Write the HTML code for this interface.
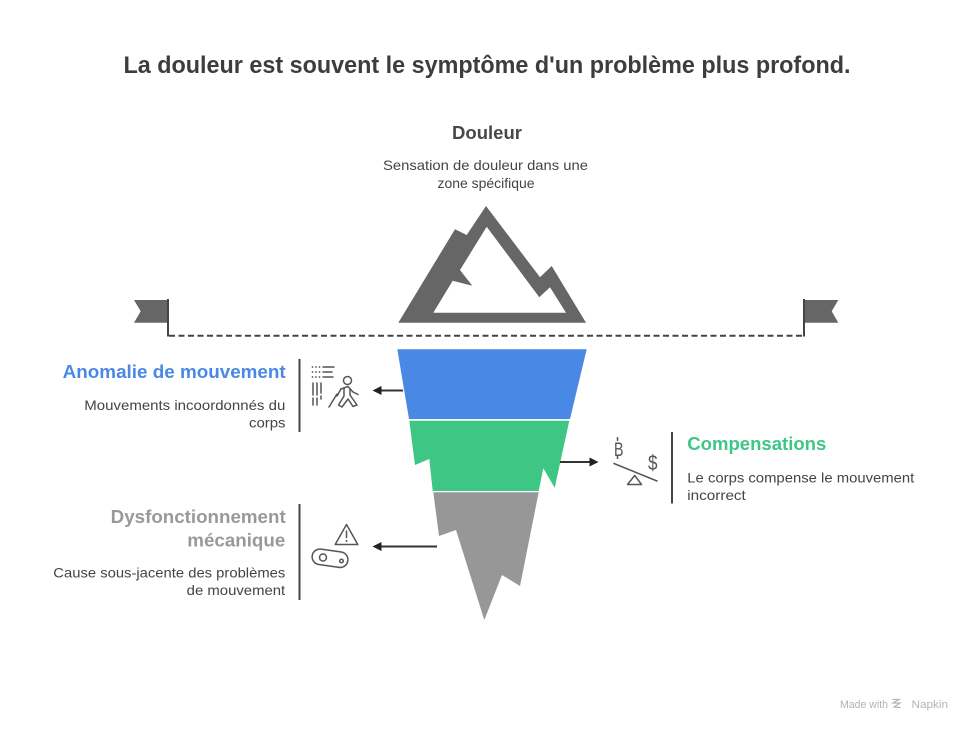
<!DOCTYPE html>
<html>
<head>
<meta charset="utf-8">
<style>
  html,body{margin:0;padding:0;background:#fff;}
  svg{display:block;}
  text{font-family:"Liberation Sans", Arial, sans-serif;}
</style>
</head>
<body>
<svg width="972" height="732" viewBox="0 0 972 732" xmlns="http://www.w3.org/2000/svg">
  <rect width="972" height="732" fill="#fff"/>

  <!-- Title -->
  <text x="123.5" y="73" font-size="24" font-weight="bold" fill="#3d3d3d" textLength="727" lengthAdjust="spacingAndGlyphs">La douleur est souvent le symptôme d'un problème plus profond.</text>

  <!-- Douleur -->
  <text x="452" y="139" font-size="18" font-weight="bold" fill="#484848" textLength="70" lengthAdjust="spacingAndGlyphs">Douleur</text>
  <text x="383" y="170" font-size="14" fill="#444" textLength="205" lengthAdjust="spacingAndGlyphs">Sensation de douleur dans une</text>
  <text x="486" y="188" font-size="14" fill="#444" text-anchor="middle" textLength="97" lengthAdjust="spacingAndGlyphs">zone spécifique</text>

  <!-- Mountain -->
  <path d="M486 206 L540 277.3 L551.7 266 L586 322.7 L398.3 322.7 L455 229.3 L466.7 235 Z" fill="#666"/>
  <path d="M486.7 226.7 L539.3 297.3 L550 287.3 L566 312.7 L433.3 312.7 L452.7 280.7 L472.3 285.7 L460 270 Z" fill="#fff"/>

  <!-- Flags + dashed waterline -->
  <path d="M134 300 L168 300 L168 322.7 L134 322.7 L140.7 311.3 Z" fill="#666"/>
  <line x1="168" y1="299" x2="168" y2="336.5" stroke="#444" stroke-width="2"/>
  <path d="M838.3 300 L804 300 L804 322.7 L838.3 322.7 L831.7 311.3 Z" fill="#666"/>
  <line x1="804" y1="299" x2="804" y2="336.5" stroke="#444" stroke-width="2"/>
  <line x1="169" y1="335.7" x2="803" y2="335.7" stroke="#444" stroke-width="2" stroke-dasharray="6 3.5"/>

  <!-- Iceberg layers -->
  <path d="M397.3 349.3 L586.7 349.3 L570 419 L409 419 Z" fill="#4A88E5"/>
  <path d="M409.3 420.7 L569.3 420.7 L554.7 487.7 L543.3 468.3 L538.7 491 L432.7 491 L429.3 459 L415 465 Z" fill="#3EC685"/>
  <path d="M433.3 492.3 L538.7 492.3 L520 586 L502 575 L484.3 620 L456 530 L439 536 Z" fill="#979797"/>

  <!-- Arrows -->
  <line x1="403" y1="390.5" x2="380" y2="390.5" stroke="#333" stroke-width="2"/>
  <path d="M372.5 390.5 L381.5 386 L381.5 395 Z" fill="#222"/>
  <line x1="437" y1="546.5" x2="380" y2="546.5" stroke="#333" stroke-width="2"/>
  <path d="M372.5 546.5 L381.5 542 L381.5 551 Z" fill="#222"/>
  <line x1="560" y1="462" x2="590" y2="462" stroke="#333" stroke-width="2"/>
  <path d="M598.5 462 L589.5 457.5 L589.5 466.5 Z" fill="#222"/>

  <!-- Left block: Anomalie -->
  <text x="62.7" y="378" font-size="18" font-weight="bold" fill="#4A88E5" textLength="223" lengthAdjust="spacingAndGlyphs">Anomalie de mouvement</text>
  <text x="84.3" y="410" font-size="14" fill="#444" textLength="201" lengthAdjust="spacingAndGlyphs">Mouvements incoordonnés du</text>
  <text x="249" y="427.5" font-size="14" fill="#444" textLength="36.5" lengthAdjust="spacingAndGlyphs">corps</text>
  <line x1="299.5" y1="359" x2="299.5" y2="432" stroke="#444" stroke-width="2"/>

  <!-- Walking icon -->
  <g stroke="#555" stroke-width="1.5" fill="none" stroke-linecap="round" stroke-linejoin="round">
    <g fill="#555" stroke="none">
      <circle cx="312.5" cy="367" r="0.9"/><circle cx="316" cy="367" r="0.9"/><circle cx="319.5" cy="367" r="0.9"/>
      <circle cx="312.5" cy="372" r="0.9"/><circle cx="316" cy="372" r="0.9"/><circle cx="319.5" cy="372" r="0.9"/>
      <circle cx="312.5" cy="377" r="0.9"/><circle cx="316" cy="377" r="0.9"/><circle cx="319.5" cy="377" r="0.9"/>
    </g>
    <line x1="323" y1="367" x2="334" y2="367"/>
    <line x1="323" y1="372" x2="332" y2="372"/>
    <line x1="323" y1="377" x2="333" y2="377"/>
    <line x1="313" y1="383" x2="313" y2="395"/><line x1="313" y1="398" x2="313" y2="405"/>
    <line x1="317" y1="383" x2="317" y2="395"/><line x1="317" y1="398" x2="317" y2="405"/>
    <line x1="321" y1="383" x2="321" y2="393"/><line x1="321" y1="396" x2="321" y2="399"/>
    <circle cx="347.5" cy="380.5" r="4"/>
    <path d="M341 389 L348 386.5 L353 392 L358 394.5"/>
    <path d="M341 389 L337 396"/>
    <path d="M344 388 L344 396 L338.5 405 L342 407 L348 399 L353 406.5 L357 405 L350 395 L350 389"/>
    <line x1="337" y1="394" x2="329" y2="407"/>
  </g>

  <!-- Left block: Dysfonctionnement -->
  <text x="110.7" y="523" font-size="18" font-weight="bold" fill="#999" textLength="175" lengthAdjust="spacingAndGlyphs">Dysfonctionnement</text>
  <text x="187.3" y="546.5" font-size="18" font-weight="bold" fill="#999" textLength="98" lengthAdjust="spacingAndGlyphs">mécanique</text>
  <text x="53.3" y="577.5" font-size="14" fill="#444" textLength="232" lengthAdjust="spacingAndGlyphs">Cause sous-jacente des problèmes</text>
  <text x="186.7" y="595" font-size="14" fill="#444" textLength="98.5" lengthAdjust="spacingAndGlyphs">de mouvement</text>
  <line x1="299.5" y1="504" x2="299.5" y2="600" stroke="#444" stroke-width="2"/>

  <!-- Warning / conveyor icon -->
  <g stroke="#555" stroke-width="1.5" fill="none" stroke-linecap="round" stroke-linejoin="round">
    <path d="M346.5 524.5 L357.8 544.5 L335.2 544.5 Z"/>
    <line x1="346.5" y1="531" x2="346.5" y2="537.5"/>
    <rect x="312" y="550.5" width="36" height="15.5" rx="7.75" transform="rotate(8 330 558.5)"/>
    <circle cx="323" cy="557.5" r="3.5"/>
    <circle cx="341.5" cy="561" r="1.8"/>
  </g>
  <circle cx="346.5" cy="541" r="1" fill="#555"/>

  <!-- Right block: Compensations -->
  <line x1="672" y1="432" x2="672" y2="503.5" stroke="#444" stroke-width="2"/>
  <text x="687.3" y="450" font-size="18" font-weight="bold" fill="#3EC685" textLength="139" lengthAdjust="spacingAndGlyphs">Compensations</text>
  <text x="687.3" y="482.5" font-size="14" fill="#444" textLength="227" lengthAdjust="spacingAndGlyphs">Le corps compense le mouvement</text>
  <text x="687.3" y="500" font-size="14" fill="#444" textLength="58.5" lengthAdjust="spacingAndGlyphs">incorrect</text>

  <!-- Balance icon -->
  <text x="614" y="456" font-size="19" fill="#555" textLength="9.5" lengthAdjust="spacingAndGlyphs">B</text>
  <line x1="617.5" y1="437" x2="617.5" y2="441" stroke="#555" stroke-width="1.5"/>
  <line x1="617.5" y1="455" x2="617.5" y2="459" stroke="#555" stroke-width="1.5"/>
  <text x="648" y="470" font-size="21" fill="#555" textLength="9.5" lengthAdjust="spacingAndGlyphs">$</text>
  <g stroke="#555" stroke-width="1.5" fill="none" stroke-linecap="round" stroke-linejoin="round">
    <line x1="614" y1="463.5" x2="657" y2="481"/>
    <path d="M634.7 475.5 L641.5 484.5 L627.5 484.5 Z"/>
  </g>

  <!-- Watermark -->
  <text x="840" y="708" font-size="11" fill="#b3b3b3" textLength="48" lengthAdjust="spacingAndGlyphs">Made with</text>
  <g stroke="#b3b3b3" stroke-width="1.2" fill="none" stroke-linecap="round">
    <path d="M893 699.5 L899 699.5 L893 703 L900 703 L894 707 L900 707.5"/>
  </g>
  <text x="911.5" y="708" font-size="11" fill="#b3b3b3" textLength="36.5" lengthAdjust="spacingAndGlyphs">Napkin</text>
</svg>
</body>
</html>
